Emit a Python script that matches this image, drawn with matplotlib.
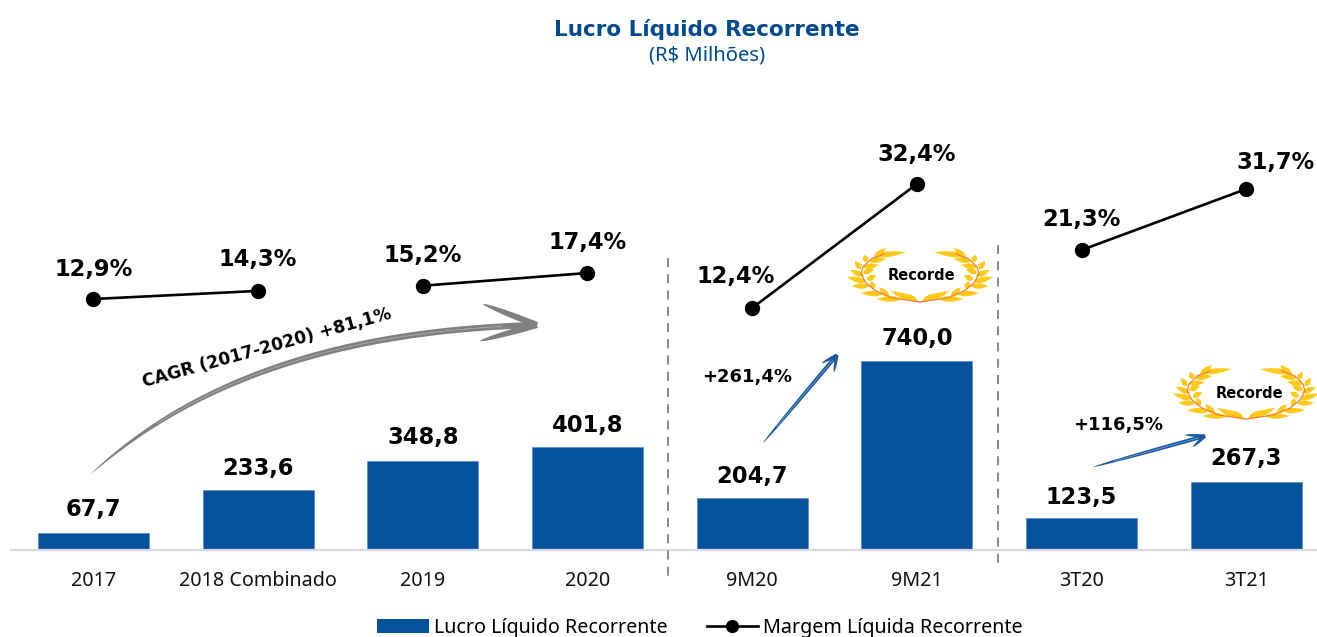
#!/usr/bin/env python3
"""Lucro Liquido Recorrente: barras + margem em tres grupos."""
import numpy as np
import matplotlib
matplotlib.use("Agg")
import matplotlib.pyplot as plt
from matplotlib.lines import Line2D
from matplotlib.patches import Patch, Polygon

W, H = 1317, 637
BLUE = "#05529c"
TITLE_BLUE = "#004a8f"
GRAY = "#808080"

categories = ["2017", "2018 Combinado", "2019", "2020", "9M20", "9M21", "3T20", "3T21"]
lucro = [67.7, 233.6, 348.8, 401.8, 204.7, 740.0, 123.5, 267.3]
margem = [12.9, 14.3, 15.2, 17.4, 12.4, 32.4, 21.3, 31.7]
# trechos da linha de margem (indices das categorias)
segments = [[0, 1], [2, 3], [4, 5], [6, 7]]
# cada grupo foi colado com escala propria: (valor, y em px, px por ponto)
margin_scales = [(17.4, 273, 5.78), (17.4, 273, 5.78), (32.4, 184, 6.2), (31.7, 189, 5.87)]
# deslocamento dos rotulos em px
bar_dy = [23, 22, 23, 22, 21, 23, 21, 23]
margin_dx = [0, 0, 0, 0, -16, 0, 0, 29]
margin_dy = [30, 31, 30, 31, 31, 30, 31, 27]

# folhas da coroa (ramo esquerdo): base -> ponta, px relativos ao centro
leaves = [(-2, 26, -17, 17), (-9, 24, -29, 15), (-19, 23, -44, 23), (-31, 21, -41, 11),
          (-37, 18, -59, 17), (-46, 13, -49, 5), (-51, 10, -68, 10), (-54, 6, -73, 1),
          (-53, 4, -44, -1), (-56, 0, -70, -6), (-57, -3, -46, -7), (-59, -7, -65, -15),
          (-57, -9, -41, -11), (-53, -14, -56, -21), (-51, -15, -34, -17),
          (-46, -18, -34, -28), (-46, -20, -14, -24)]
stem = [(0, 26), (-14, 24), (-27, 22), (-44, 15), (-54, 7), (-59, -2), (-57, -9), (-49, -17), (-36, -22)]

plt.rcParams["font.family"] = ["DejaVu Sans"]
LABEL_FONT = "Noto Sans"

# area dos eixos em px da imagem
LEFT, RIGHT, BASE_Y, TOP_Y = 11, 1317, 550, 100


def br(v, nd=1):
    return f"{v:.{nd}f}".replace(".", ",")


def swoosh(ax, p0, p1, p2, p3, wmax, color, streak=None, zorder=3):
    """Traco afilado (bezier cubica) em coordenadas de pixel."""
    t = np.linspace(0, 1, 80)[:, None]
    p0, p1, p2, p3 = [np.array(p, float) for p in (p0, p1, p2, p3)]
    c = (1 - t) ** 3 * p0 + 3 * (1 - t) ** 2 * t * p1 + 3 * (1 - t) * t ** 2 * p2 + t ** 3 * p3
    d = np.gradient(c, axis=0)
    n = np.column_stack([-d[:, 1], d[:, 0]]) / np.linalg.norm(d, axis=1)[:, None]
    w = (wmax * t ** 0.6 * (1 - 0.45 * t)) / 2
    poly = np.vstack([c + n * w, (c - n * w)[::-1]])
    ax.add_patch(Polygon(poly, closed=True, fc=color, ec="none", zorder=zorder))
    if streak:
        ax.plot(c[15:-5, 0], c[15:-5, 1], color=streak, lw=0.5, zorder=zorder + 0.1)


def arrow(ax, start, tip, barb1, barb2, wmax, color, streak, c1=None, c2=None, barb_k=0.8):
    s, e = np.array(start, float), np.array(tip, float)
    c1 = s + (e - s) / 3 if c1 is None else c1
    c2 = s + 2 * (e - s) / 3 if c2 is None else c2
    swoosh(ax, s, c1, c2, e, wmax, color, streak)
    for b in (barb1, barb2):
        b = np.array(b, float)
        swoosh(ax, b, b + (e - b) / 3, b + 2 * (e - b) / 3, e, wmax * barb_k, color)


def leaf(ax, x0, y0, x1, y1, width=5.5, color="#ffc91a"):
    t = np.linspace(0, 1, 16)
    half = width / 2 * np.sin(np.pi * t ** 0.8)
    dx, dy = x1 - x0, y1 - y0
    L = np.hypot(dx, dy)
    px, py = -dy / L, dx / L
    up = np.column_stack([x0 + dx * t + px * half, y0 + dy * t + py * half])
    lo = np.column_stack([x0 + dx * t - px * half, y0 + dy * t - py * half])
    ax.add_patch(Polygon(np.vstack([up, lo[::-1]]), fc=color, ec="none", zorder=4))


def wreath(ax, cx, cy):
    for side in (-1, 1):
        for x0, y0, x1, y1 in leaves:
            leaf(ax, cx - side * -x0, cy + y0, cx - side * -x1, cy + y1)
        ax.plot([cx + side * -p[0] for p in stem], [cy + p[1] for p in stem],
                color="#f0823c", lw=0.9, zorder=5)


fig = plt.figure(figsize=(W / 100, H / 100), dpi=100)
rect = [LEFT / W, 1 - BASE_Y / H, (RIGHT - LEFT) / W, (BASE_Y - TOP_Y) / H]
ax = fig.add_axes(rect)
x = np.arange(len(categories))

# barras
ax.bar(x, lucro, width=0.674, color=BLUE, edgecolor="#5a8cc0", linewidth=0.5, zorder=2)
ax.set_xlim(-0.5, -0.5 + (RIGHT - LEFT) / 164.7)
ax.set_ylim(0, (BASE_Y - TOP_Y) / 0.2554)
for xi, v, dy in zip(x, lucro, bar_dy):
    ax.annotate(br(v), (xi, v), xytext=(0, dy), textcoords="offset pixels",
                ha="center", va="center", fontsize=16.3, fontweight="bold", color="black")
ax.set_xticks(x, categories, fontsize=14.2, family=LABEL_FONT, color="#111111")
ax.tick_params(axis="x", length=0, pad=15)
ax.set_yticks([])
for s in ("top", "left", "right"):
    ax.spines[s].set_visible(False)
ax.spines["bottom"].set_color("#d9d9d9")
ax.spines["bottom"].set_linewidth(1.6)
ax.patch.set_alpha(0)

# margem: um eixo gemeo por trecho, cada um com sua escala
for seg, (v0, y0, k) in zip(segments, margin_scales):
    axm = ax.twinx()
    axm.set_ylim(v0 - (BASE_Y - y0) / k, v0 + (y0 - TOP_Y) / k)
    axm.axis("off")
    xs = [x[i] for i in seg]
    ys = [margem[i] for i in seg]
    axm.plot(xs, ys, color="black", lw=1.9, marker="o", ms=10, zorder=3)
    for i in seg:
        axm.annotate(br(margem[i]) + "%", (x[i], margem[i]),
                     xytext=(margin_dx[i], margin_dy[i]), textcoords="offset pixels",
                     ha="center", va="center", fontsize=16.3, fontweight="bold", color="black")

# camada em px da imagem para os enfeites
over = fig.add_axes([0, 0, 1, 1], zorder=10)
over.set_xlim(0, W)
over.set_ylim(H, 0)
over.axis("off")

# separadores
for sx, y1, y2 in [(668, 258, 577), (998, 245, 565)]:
    over.plot([sx, sx], [y1, y2], color=GRAY, lw=1.3, dashes=(5, 4))

# seta CAGR
arrow(over, (91, 474), (537, 325), (483, 304), (480, 341), 11, GRAY, "#b5b5b5",
      c1=(200, 375), c2=(350, 330), barb_k=1.0)
over.text(267, 348, "CAGR (2017-2020) +81,1%", rotation=15.5, ha="center", va="center",
          fontsize=12.3, fontweight="bold", color="black", rotation_mode="anchor")

# setas azuis
arrow(over, (763, 443), (837, 355), (822, 363), (834, 372), 7, "#1a5a9e", "#7fa6cf")
arrow(over, (1093, 467), (1205, 436), (1185, 435), (1193, 447), 7, "#1a5a9e", "#7fa6cf")
over.text(747, 377, "+261,4%", ha="center", va="center", fontsize=13, fontweight="bold")
over.text(1118, 425, "+116,5%", ha="center", va="center", fontsize=13, fontweight="bold")

# coroas
wreath(over, 920, 276)
wreath(over, 1246, 393)
over.text(921, 276, "Recorde", ha="center", va="center", fontsize=10.5, fontweight="bold", zorder=6)
over.text(1249, 393, "Recorde", ha="center", va="center", fontsize=10.5, fontweight="bold", zorder=6)

# titulo
fig.text(707 / W, 1 - 29 / H, "Lucro Líquido Recorrente", ha="center", va="center",
         fontsize=15.5, fontweight="bold", color=TITLE_BLUE)
fig.text(707 / W, 1 - 56 / H, "(R$ Milhões)", ha="center", va="center",
         fontsize=14.5, family=LABEL_FONT, color=TITLE_BLUE)

# legenda
handles = [Patch(fc=BLUE, ec="none", label="Lucro Líquido Recorrente"),
           Line2D([], [], color="black", lw=1.9, marker="o", ms=8.5, label="Margem Líquida Recorrente")]
fig.legend(handles=handles, ncol=2, loc="center", bbox_to_anchor=(700 / W, 1 - 628 / H),
           frameon=False, prop={"family": LABEL_FONT, "size": 14.2}, handlelength=2.6,
           handleheight=0.7, handletextpad=0.25, columnspacing=2.0, borderpad=0)

fig.savefig("out.png", dpi=100)
